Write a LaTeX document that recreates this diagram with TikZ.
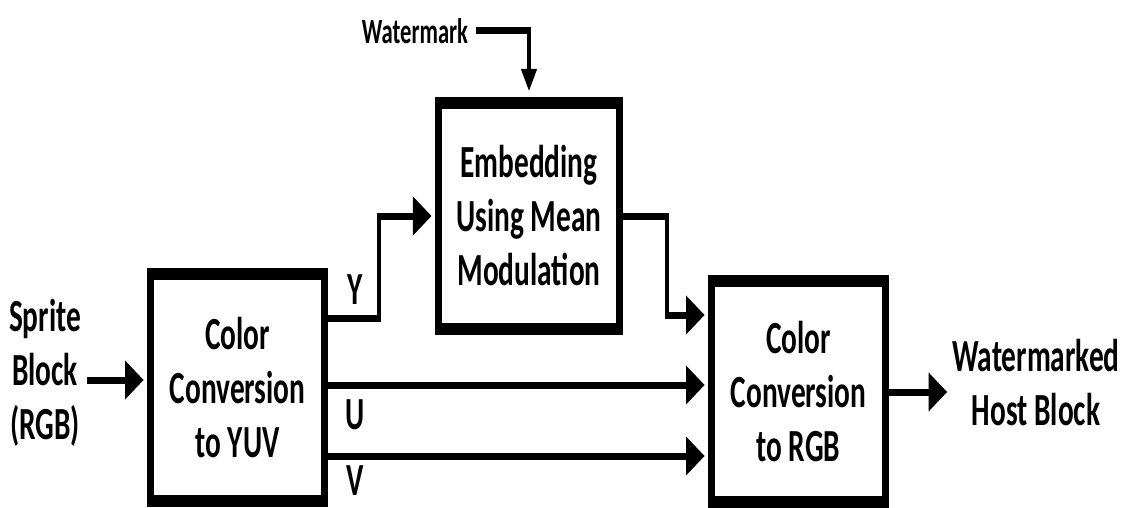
\documentclass[tikz,border=0pt]{standalone}
\usepackage{fontspec}
\setmainfont{Carlito}[FakeStretch=1.16]
\usetikzlibrary{arrows.meta,calc}
\begin{document}
\begin{tikzpicture}[x=1pt,y=-1pt]
\useasboundingbox (0,0) rectangle (1123,508);
\begin{scope}[x=1.818182pt, y=-1pt, transform canvas={xscale=0.55},
  blk/.style={draw, line width=12pt, inner sep=0pt, align=center,
    font=\bfseries\fontsize{46}{54}\selectfont},
  lbl/.style={inner sep=0pt, align=center, font=\bfseries\fontsize{46}{54}\selectfont},
  conn/.style={line width=7pt, line join=miter},
  arr/.style={conn, -{Triangle[length=34pt,width=37pt]}},
  varr/.style={conn, -{Triangle[length=22pt,width=28pt]}}]
  % blocks
  \node[blk, minimum width=317pt, minimum height=227pt] (yuv) at (237.5,387.5) {Color\\Conversion\\to YUV};
  \node[blk, minimum width=330pt, minimum height=226pt] (emb) at (529,216) {Embedding\\Using Mean\\Modulation};
  \node[blk, minimum width=317pt, minimum height=221pt] (rgb) at (798.5,391.5) {Color\\Conversion\\to RGB};
  % labels
  \node[lbl] (sprite) at (45,373) {Sprite\\Block\\(RGB)};
  \node[lbl] (out) at (1036,383) {Watermarked\\Host Block};
  \node[lbl, font=\bfseries\fontsize{35.5}{40}\selectfont] (wmk) at (415,31) {Watermark};
  \node[lbl] (ly) at (355,290) {Y};
  \node[lbl] (lu) at (355,415) {U};
  \node[lbl] (lv) at (355,481) {V};
  % rows
  \coordinate (sin) at (87,380);
  \coordinate (yrow) at (0,318);
  \coordinate (erow) at (0,315);
  \coordinate (urow) at (0,385);
  \coordinate (vrow) at (0,456);
  \coordinate (orow) at (0,392);
  % connectors
  \draw[arr, shorten >=6pt] (sin) -- (sin -| yuv.west);
  \draw[arr, shorten >=6pt] (yuv.east |- yrow) -| (379,216) -- (emb.west);
  \draw[arr, shorten >=6pt] (emb.east) -| (667,315) -- (rgb.west |- erow);
  \draw[arr, shorten >=6pt] (yuv.east |- urow) -- (rgb.west |- urow);
  \draw[arr, shorten >=6pt] (yuv.east |- vrow) -- (rgb.west |- vrow);
  \draw[arr, shorten >=9pt] (rgb.east |- orow) -- (out.west |- orow);
  \draw[varr, shorten <=14pt, shorten >=6pt] (wmk.east) -| (emb.north);
\end{scope}
\end{tikzpicture}
\end{document}
